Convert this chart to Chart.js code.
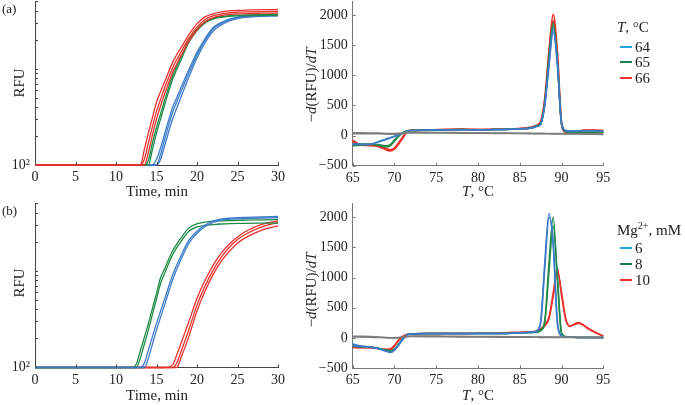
<!DOCTYPE html>
<html>
<head>
<meta charset="utf-8">
<script src="https://cdn.jsdelivr.net/npm/chart.js@4/dist/chart.umd.min.js"></script>
<style>
  html, body { margin:0; padding:0; background:#fff; }
  body { width:685px; height:405px; position:relative; overflow:hidden; font-family:"Liberation Serif","DejaVu Serif",serif; color:#222; }
  canvas { position:absolute; }
  .t { position:absolute; white-space:nowrap; font-size:15px; line-height:1; }
  .c { transform:translate(-50%,-50%); }
  .r { transform:translate(-50%,-50%) rotate(-90deg); }
  .l { transform:translateY(-50%); }
  .sw { position:absolute; width:12px; height:2px; }
  i { font-style:italic; }
  sup { font-size:10px; vertical-align:6px; line-height:0; }
</style>
</head>
<body>
<canvas id="cA" width="290" height="212" style="left:0;top:-12px"></canvas>
<canvas id="cB" width="320" height="212" style="left:300px;top:-12px"></canvas>
<canvas id="cC" width="290" height="215" style="left:0;top:190px"></canvas>
<canvas id="cD" width="320" height="215" style="left:300px;top:190px"></canvas>

<div class="t l" style="left:2px;top:8px;font-size:13px">(a)</div>
<div class="t l" style="left:2px;top:210px;font-size:13px">(b)</div>
<div class="t r" style="left:19px;top:83px">RFU</div>
<div class="t r" style="left:19px;top:283px">RFU</div>
<div class="t c" style="left:157px;top:191px">Time, min</div>
<div class="t c" style="left:157px;top:395px">Time, min</div>
<div class="t r" style="left:311px;top:85px">−<i>d</i>(RFU)/<i>dT</i></div>
<div class="t r" style="left:311px;top:290px">−<i>d</i>(RFU)/<i>dT</i></div>
<div class="t c" style="left:478px;top:191px"><i>T</i>, °C</div>
<div class="t c" style="left:478px;top:395px"><i>T</i>, °C</div>

<div id="legA"></div>
<div id="legB"></div>

<script>
// ---------- data ----------
const TIME = [0, 12, 12.5, 13, 13.5, 14, 14.5, 15, 15.5, 16, 17, 17.5, 18, 19, 20, 21, 22, 23, 24, 25, 26, 28, 30];

// panel (a) amplification, T = 64 / 65 / 66 °C
const ampA_red1   = [100,100,100,100,145,215,310,450,575,730,1170,1400,1640,2260,2940,3450,3720,3890,3980,4030,4060,4100,4120];
const ampA_red2   = [100,100,100,100,115,170,250,360,480,630,1030,1240,1480,2080,2720,3250,3550,3720,3810,3860,3890,3920,3940];
const ampA_red3   = [100,100,100,100,100,135,205,300,410,545,920,1120,1350,1920,2540,3080,3400,3570,3660,3710,3740,3770,3790];
const ampA_green1 = [100,100,100,100,100,112,170,245,340,470,850,1060,1310,1990,2590,3090,3350,3480,3560,3600,3630,3650,3660];
const ampA_green2 = [100,100,100,100,100,100,145,215,300,420,780,980,1220,1880,2480,2990,3280,3420,3500,3540,3560,3580,3590];
const ampA_blue1  = [100,100,100,100,100,100,100,115,150,210,400,500,630,980,1480,2060,2680,3020,3280,3440,3510,3560,3590];
const ampA_blue2  = [100,100,100,100,100,100,100,100,130,184,355,450,569,906,1393,1982,2600,2950,3220,3400,3480,3550,3580];
const ampA_blue3  = [100,100,100,100,100,100,100,100,114,158,302,390,500,820,1290,1860,2460,2850,3130,3320,3410,3490,3520];

// panel (b) amplification, Mg2+ = 6 / 8 / 10 mM
const ampB_blue1  = [100,100,100,100,111,152,209,286,383,512,912,1150,1420,2080,2580,2990,3280,3460,3510,3550,3580,3630,3660];
const ampB_blue2  = [100,100,100,100,100,125,175,245,330,445,810,1040,1300,1940,2450,2880,3170,3350,3420,3460,3490,3530,3550];
const ampB_green1 = [100,100,108,149,205,286,410,586,850,1050,1625,1890,2180,2790,3080,3200,3270,3300,3320,3340,3350,3370,3390];
const ampB_green2 = [100,100,100,125,175,245,355,510,740,940,1480,1740,2000,2580,2850,2960,3020,3060,3080,3100,3110,3120,3130];
const ampB_red1   = [100,100,100,100,100,100,100,100,100,100,107,135,175,300,520,800,1150,1530,1900,2250,2560,3030,3290];
const ampB_red2   = [100,100,100,100,100,100,100,100,100,100,100,111,144,247,443,700,1018,1386,1758,2109,2395,2860,3165];
const ampB_red3   = [100,100,100,100,100,100,100,100,100,100,100,100,125,210,385,620,920,1260,1600,1930,2210,2650,2930];

// melt curves
const TEMP = [65,66,67,68,69,69.5,70,70.5,71,71.5,72,74,76,78,80,82,84,86,86.5,87,87.5,88,88.5,89,89.5,90,90.5,91,91.5,92,92.5,93,94,95];

const meltA_gray1  = [45,45,43,40,35,33,33,38,45,52,55,52,50,47,45,43,40,38,37,36,36,35,35,34,34,33,33,32,32,31,31,30,28,26];
const meltA_gray2  = [30,32,32,30,25,22,22,28,35,42,45,44,42,40,38,36,34,32,31,30,30,29,29,28,28,27,27,26,26,25,25,24,22,20];
const meltA_blue1  = [-150,-150,-150,-105,-55,-35,-10,15,40,70,85,90,95,95,95,100,105,120,130,150,190,520,1200,1780,1200,200,80,75,75,80,80,80,80,80];
const meltA_blue2  = [-140,-145,-148,-110,-65,-40,-15,10,35,65,85,90,95,95,95,100,105,118,128,148,185,500,1150,1720,1180,210,85,75,75,78,80,80,80,80];
const meltA_green1 = [-150,-140,-140,-160,-190,-170,-95,-15,40,75,85,90,95,100,95,100,105,120,135,160,200,560,1300,1870,1250,200,70,60,55,55,55,55,55,50];
const meltA_green2 = [-170,-160,-150,-150,-170,-150,-70,0,50,80,85,90,95,100,95,100,105,118,130,155,195,540,1260,1820,1230,190,65,55,55,55,55,55,55,50];
const meltA_red1   = [-80,-160,-165,-180,-235,-255,-225,-140,-40,60,90,95,100,105,100,105,110,130,145,170,230,620,1400,2010,1380,220,60,55,65,75,85,90,90,85];
const meltA_red2   = [-110,-150,-150,-170,-215,-235,-205,-120,-25,65,85,90,95,100,95,100,105,120,135,160,210,560,1300,1900,1300,190,55,50,60,70,80,85,85,75];

const meltB_gray1  = [30,28,25,18,10,5,5,10,20,30,35,33,30,28,25,23,21,19,18,18,17,17,17,16,16,15,15,15,14,14,13,13,12,10];
const meltB_gray2  = [20,18,15,10,5,0,0,5,12,20,25,24,22,20,18,16,14,12,12,12,11,11,11,10,10,10,9,9,9,8,8,8,7,6];
const meltB_blue1  = [-100,-130,-145,-170,-215,-240,-205,-120,-20,50,70,75,75,75,75,75,80,90,95,120,280,1270,2060,1520,230,35,15,12,12,10,10,10,10,10];
const meltB_blue2  = [-130,-140,-150,-175,-220,-235,-195,-110,-15,55,70,75,75,75,75,75,80,90,95,110,240,1150,1990,1620,290,40,15,12,12,10,10,10,10,10];
const meltB_green1 = [-130,-140,-145,-170,-205,-215,-190,-110,-20,50,70,75,75,75,75,75,80,90,92,95,130,300,1250,2000,950,70,20,15,12,10,10,10,10,10];
const meltB_green2 = [-140,-145,-150,-170,-200,-210,-180,-100,-10,55,70,75,75,75,75,75,80,90,92,95,120,260,1100,1850,1050,90,25,15,12,10,10,10,10,10];
const meltB_red1   = [-150,-155,-155,-170,-185,-180,-120,-30,30,60,70,75,75,75,78,80,90,100,105,115,150,220,350,750,1150,700,300,190,230,255,230,180,100,35];
const meltB_red2   = [-160,-160,-160,-175,-190,-190,-135,-45,20,55,70,75,75,75,78,80,90,100,105,110,140,200,320,680,1100,760,330,200,220,240,220,170,90,30];

const X_TICKS_TIME = [0, 5, 10, 15, 20, 25, 30];
const X_TICKS_TEMP = [65, 70, 75, 80, 85, 90, 95];
const Y_TICKS_MELT = [-500, 0, 500, 1000, 1500, 2000];
const Y_TICKS_RFU  = [100, 200, 300, 400, 500, 600, 700, 800, 900, 1000, 2000, 3000, 4000, 5000];
const LEGEND_A = { title: '<i>T</i>, °C', labels: ['64', '65', '66'] };
const LEGEND_B = { title: 'Mg<sup>2+</sup>, mM', labels: ['6', '8', '10'] };

// ---------- styling ----------
const BLUE = '#3c7bc8', GREEN = '#1f8a47', RED = '#e8322e', GRAY = '#7c7c7c';
const LEG_COLORS = ['#22a7e0', '#1e7b4c', '#ee3330'];
const FONT = { family: '"Liberation Serif","DejaVu Serif",serif', size: 14 };

function ds(xs, ys, color, w) {
  return { data: xs.map((x, i) => ({ x: x, y: ys[i] })), borderColor: color, borderWidth: w || 1.3,
    pointRadius: 0, fill: false, cubicInterpolationMode: 'monotone', clip: 3 };
}

const inTicks = {
  id: 'inTicks',
  afterDatasetsDraw(chart, args, opts) {
    const ctx = chart.ctx, ca = chart.chartArea;
    ctx.save();
    ctx.strokeStyle = opts.color || '#444';
    ctx.lineWidth = 1;
    const xs = chart.scales.x, ys = chart.scales.y;
    xs.ticks.forEach((t, i) => {
      const p = Math.round(xs.getPixelForTick(i)) + 0.5;
      ctx.beginPath(); ctx.moveTo(p, ca.bottom); ctx.lineTo(p, ca.bottom - (opts.len || 3)); ctx.stroke();
    });
    ys.ticks.forEach((t, i) => {
      if (t.value === ys.min && opts.skipMin) return;
      const p = Math.round(ys.getPixelForTick(i)) + 0.5;
      ctx.beginPath(); ctx.moveTo(ca.left, p); ctx.lineTo(ca.left + (opts.len || 3), p); ctx.stroke();
    });
    ctx.restore();
  }
};

function makeChart(id, datasets, o) {
  const isLog = o.log;
  new Chart(document.getElementById(id), {
    type: 'line',
    data: { datasets: datasets },
    options: {
      responsive: false, animation: false, devicePixelRatio: 1,
      layout: { padding: { top: o.padTop, right: o.padRight, left: 0, bottom: 0 } },
      plugins: { legend: { display: false }, tooltip: { enabled: false }, inTicks: { color: o.axisColor, len: 3, skipMin: isLog } },
      scales: {
        x: {
          type: 'linear', min: o.xmin, max: o.xmax,
          afterBuildTicks: (s) => { s.ticks = o.xticks.map(v => ({ value: v })); },
          ticks: { font: FONT, color: '#222', padding: 4, maxRotation: 0, autoSkip: false },
          grid: { display: false, drawTicks: false },
          border: { display: true, color: o.axisColor, width: 1 },
          afterFit: (s) => { s.height = o.xh; }
        },
        y: isLog ? {
          type: 'logarithmic', min: 100, max: 5000,
          afterBuildTicks: (s) => { s.ticks = Y_TICKS_RFU.map(v => ({ value: v })); },
          ticks: { font: FONT, color: '#222', padding: 5, autoSkip: false,
            callback: (v) => (v === 100 ? '10²' : '') },
          grid: { display: false, drawTicks: false },
          border: { display: true, color: o.axisColor, width: 1 },
          afterFit: (s) => { s.width = o.yw; }
        } : {
          type: 'linear', min: -500, max: 2225,
          afterBuildTicks: (s) => { s.ticks = Y_TICKS_MELT.map(v => ({ value: v })); },
          ticks: { font: FONT, color: '#222', padding: 5, autoSkip: false,
            callback: (v) => (v < 0 ? '−' + Math.abs(v) : String(v)) },
          grid: { display: false, drawTicks: false },
          border: { display: true, color: o.axisColor, width: 1 },
          afterFit: (s) => { s.width = o.yw; }
        }
      }
    },
    plugins: [inTicks]
  });
}

// (a) amplification
makeChart('cA', [
  ds(TIME, ampA_red1, RED), ds(TIME, ampA_red2, RED), ds(TIME, ampA_red3, RED),
  ds(TIME, ampA_green1, GREEN), ds(TIME, ampA_green2, GREEN),
  ds(TIME, ampA_blue1, BLUE), ds(TIME, ampA_blue2, BLUE), ds(TIME, ampA_blue3, BLUE)
], { log: true, xmin: 0, xmax: 30, xticks: X_TICKS_TIME, padTop: 12, padRight: 12, xh: 35, yw: 35, axisColor: '#444' });

// (a) melt
makeChart('cB', [
  ds(TEMP, meltA_gray1, GRAY, 1.6), ds(TEMP, meltA_gray2, GRAY, 1.6),
  ds(TEMP, meltA_blue1, BLUE, 1.5), ds(TEMP, meltA_blue2, BLUE, 1.5),
  ds(TEMP, meltA_green1, GREEN, 1.5), ds(TEMP, meltA_green2, GREEN, 1.5),
  ds(TEMP, meltA_red1, RED, 1.8), ds(TEMP, meltA_red2, RED, 1.8)
], { log: false, xmin: 65, xmax: 95, xticks: X_TICKS_TEMP, padTop: 12, padRight: 16.7, xh: 34.3, yw: 52.7, axisColor: '#777' });

// (b) amplification
makeChart('cC', [
  ds(TIME, ampB_blue1, BLUE), ds(TIME, ampB_blue2, BLUE),
  ds(TIME, ampB_green1, GREEN), ds(TIME, ampB_green2, GREEN),
  ds(TIME, ampB_red1, RED), ds(TIME, ampB_red2, RED), ds(TIME, ampB_red3, RED)
], { log: true, xmin: 0, xmax: 30, xticks: X_TICKS_TIME, padTop: 12.5, padRight: 12, xh: 37.5, yw: 35, axisColor: '#444' });

// (b) melt
makeChart('cD', [
  ds(TEMP, meltB_gray1, GRAY, 1.6), ds(TEMP, meltB_gray2, GRAY, 1.6),
  ds(TEMP, meltB_blue1, BLUE, 1.5), ds(TEMP, meltB_blue2, BLUE, 1.5),
  ds(TEMP, meltB_green1, GREEN, 1.5), ds(TEMP, meltB_green2, GREEN, 1.5),
  ds(TEMP, meltB_red1, RED, 1.5), ds(TEMP, meltB_red2, RED, 1.5)
], { log: false, xmin: 65, xmax: 95, xticks: X_TICKS_TEMP, padTop: 13.3, padRight: 16.7, xh: 36.7, yw: 52.7, axisColor: '#777' });

// legends (HTML text)
function legend(elId, leg, titleY, rowYs) {
  const el = document.getElementById(elId);
  let html = '<div class="t l" style="left:617px;top:' + titleY + 'px">' + leg.title + '</div>';
  leg.labels.forEach((lab, i) => {
    html += '<div class="sw" style="left:620px;top:' + (rowYs[i] - 1) + 'px;background:' + LEG_COLORS[i] + '"></div>';
    html += '<div class="t l" style="left:635px;top:' + rowYs[i] + 'px">' + lab + '</div>';
  });
  el.innerHTML = html;
}
legend('legA', LEGEND_A, 27, [46.5, 62, 78]);
legend('legB', LEGEND_B, 230, [248, 264, 280]);
</script>
</body>
</html>
